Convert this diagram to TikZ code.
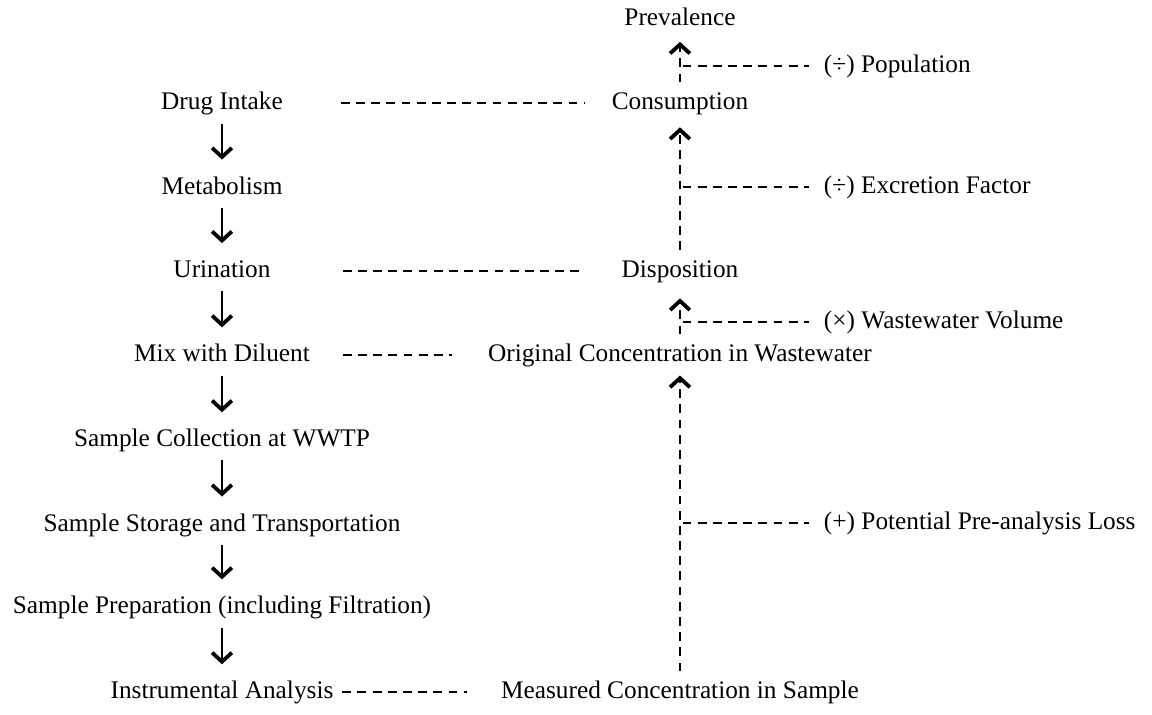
\documentclass[tikz,border=0pt]{standalone}
\usepackage{fontspec}
\setmainfont{Liberation Serif}
\usetikzlibrary{arrows.meta,positioning}
\tikzset{
  stage/.style={inner sep=0.333em,text height=1.6ex,text depth=0.4ex,font=\fontsize{10}{12}\selectfont},
  flow/.style={-{Straight Barb[length=3.6pt,width=7.8pt,line width=1.5pt]},line width=1.1pt},
  calc/.style={-{Straight Barb[length=3.6pt,width=7.8pt,line width=1.5pt]},line width=0.9pt,dash pattern=on 3.5pt off 2.5pt},
  link/.style={line width=0.9pt,dash pattern=on 3.5pt off 2.5pt}
}

\begin{document}
\begin{tikzpicture}
\useasboundingbox (0,0) rectangle (16,-9.93);
% \draw[help lines] (0,0) grid (16,-10);
% left column: what happens to the drug
\node (drug) [stage] at (3.083,-1.43) {Drug Intake};
\node (meta) [stage] at (3.083,-2.60) {Metabolism};
\node (urin) [stage] at (3.083,-3.76) {Urination};
\node (mix)  [stage] at (3.083,-4.93) {Mix with Diluent};
\node (coll) [stage] at (3.083,-6.11) {Sample Collection at WWTP};
\node (stor) [stage] at (3.083,-7.28) {Sample Storage and Transportation};
\node (prep) [stage] at (3.083,-8.43) {Sample Preparation (including Filtration)};
\node (inst) [stage] at (3.083,-9.61) {Instrumental Analysis};
% right column: back-calculation
\node (prev) [stage] at (9.444,-0.26) {Prevalence};
\node (cons) [stage] at (9.444,-1.43) {Consumption};
\node (disp) [stage] at (9.444,-3.76) {Disposition};
\node (orig) [stage] at (9.444,-4.93) {Original Concentration in Wastewater};
\node (meas) [stage] at (9.444,-9.61) {Measured Concentration in Sample};
% correction factors
\node (pop)  [stage,anchor=west] at (11.32,-0.917) {(÷) Population};
\node (excr) [stage,anchor=west] at (11.32,-2.597) {(÷) Excretion Factor};
\node (vol)  [stage,anchor=west] at (11.32,-4.472) {(×) Wastewater Volume};
\node (loss) [stage,anchor=west] at (11.32,-7.264) {(+) Potential Pre-analysis Loss};
%
\path[flow,shorten >=2.8pt](drug) edge (meta);
\path[flow,shorten >=2.8pt](meta) edge (urin);
\path[flow,shorten >=2.8pt](urin) edge (mix);
\path[flow,shorten >=2.8pt](mix) edge (coll);
\path[flow,shorten >=2.8pt](coll) edge (stor);
\path[flow,shorten >=2.8pt](stor) edge (prep);
\path[flow,shorten >=2.8pt](prep) edge (inst);

\path[calc,shorten >=1pt](cons) edge (prev);
\path[calc,shorten >=1.5pt](disp) edge (cons);
\path[calc,shorten >=2.8pt](orig) edge (disp);
\path[calc](meas) edge (orig);

\path[link,shorten <=1pt,shorten >=2.5pt](prev.south |- pop.west) edge (pop.west);
\path[link,shorten <=1pt,shorten >=2.5pt](cons.south |- excr.west) edge (excr.west);
\path[link,shorten <=1pt,shorten >=2.5pt](disp.south |- vol.west) edge (vol.west);
\path[link,shorten <=1pt,shorten >=2.5pt](orig.south |- loss.west) edge (loss.west);

\path[link,shorten <=19.4pt,shorten >=7pt](drug.east) edge (cons.west);
\path[link,shorten <=25pt,shorten >=11pt](urin.east) edge (disp.west);
\path[link,shorten <=9.5pt,shorten >=10.7pt](mix.east) edge (orig.west);
\path[link,shorten >=10pt](inst.east) edge (meas.west);
\end{tikzpicture}
\end{document}
